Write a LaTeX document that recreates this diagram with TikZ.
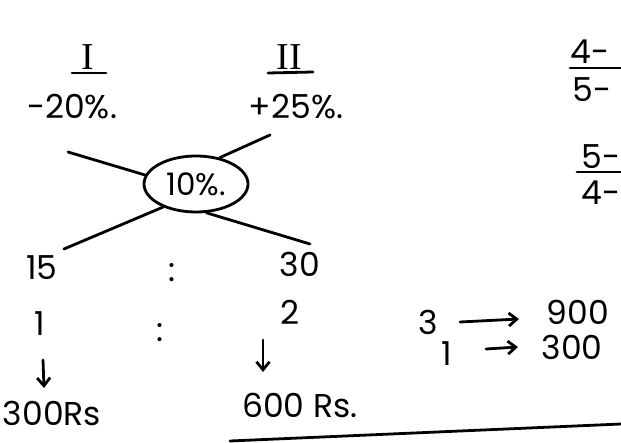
\documentclass[tikz,border=0pt]{standalone}
\usepackage{fontspec}
\setmainfont{Poppins}
\newfontfamily\romfont{Liberation Serif}
\usetikzlibrary{shapes.geometric,arrows.meta}
\begin{document}
\begin{tikzpicture}[x=1pt,y=-1pt,
  hw/.style={font=\fontsize{33}{35}\selectfont, inner sep=0pt, anchor=center, text height=23pt, text depth=0pt},
  ink/.style={line width=2.8pt, line cap=round},
  arr/.style={ink, -{Straight Barb[length=8pt,width=13pt]}},
  rom/.style={font=\romfont\fontsize{38}{38}\selectfont, inner sep=0pt}]
\useasboundingbox (0,0) rectangle (621,443);
% headings
\node[rom] (h1) at (88,57) {I};
\node[rom] (h2) at (289,57) {II};
\draw[ink] (72,73) -- (106,73);
\draw[ink] (268,73) -- (313,72);
\node[hw] (p1) at (72,107) {-20\%.};
\node[hw] (p2) at (296,107) {+25\%.};
% centre ellipse
\node[ellipse, draw, line width=2.8pt, minimum width=104pt, minimum height=56pt, inner sep=0pt, font=\fontsize{31}{33}\selectfont] (c) at (196,184) {10\%.};
\coordinate (a1) at (68,152);
\coordinate (a2) at (270,135);
\coordinate (a3) at (64,249);
\coordinate (a4) at (310,244);
\draw[ink] (a1) -- (c.170);
\draw[ink] (a2) -- (c.48);
\draw[ink] (a3) -- (c.215);
\draw[ink] (a4) -- (c.290);
% ratios
\node[hw] (n15) at (42,268) {15};
\node[hw] (col1) at (172,270) {:};
\node[hw] (n30) at (300,265) {30};
\node[hw] (n1) at (40,324) {1};
\node[hw] (col2) at (160,330) {:};
\node[hw] (n2) at (290,313) {2};
\node[hw] (r1) at (52,414) {300Rs};
\node[hw] (r2) at (300,406) {600 Rs.};
\coordinate (d1s) at (43,360);
\coordinate (d1e) at (44,388);
\coordinate (d2s) at (263,340);
\coordinate (d2e) at (263,372);
\draw[arr] (d1s) -- (d1e);
\draw[arr] (d2s) -- (d2e);
% right side
\node[hw] (t3) at (428,323) {3};
\node[hw] (t900) at (578,313) {900};
\node[hw] (t1) at (447,354) {1};
\node[hw] (t300) at (572,348) {300};
\coordinate (e1s) at (460,322);
\coordinate (e1e) at (519,319);
\coordinate (e2s) at (486,349);
\coordinate (e2e) at (518,347);
\draw[arr] (e1s) -- (e1e);
\draw[arr] (e2s) -- (e2e);
% fractions at the right edge
\node[hw, anchor=east] (f1n) at (610,52) {4-};
\draw[ink] (570,68) -- (621,68);
\node[hw, anchor=east] (f1d) at (612,90) {5-};
\node[hw, anchor=east] (f2n) at (621,157) {5-};
\draw[ink] (577,172) -- (621,172);
\node[hw, anchor=east] (f2d) at (621,193) {4-};
% bottom line
\draw[ink] (230,441) -- (621,424);
\end{tikzpicture}
\end{document}
